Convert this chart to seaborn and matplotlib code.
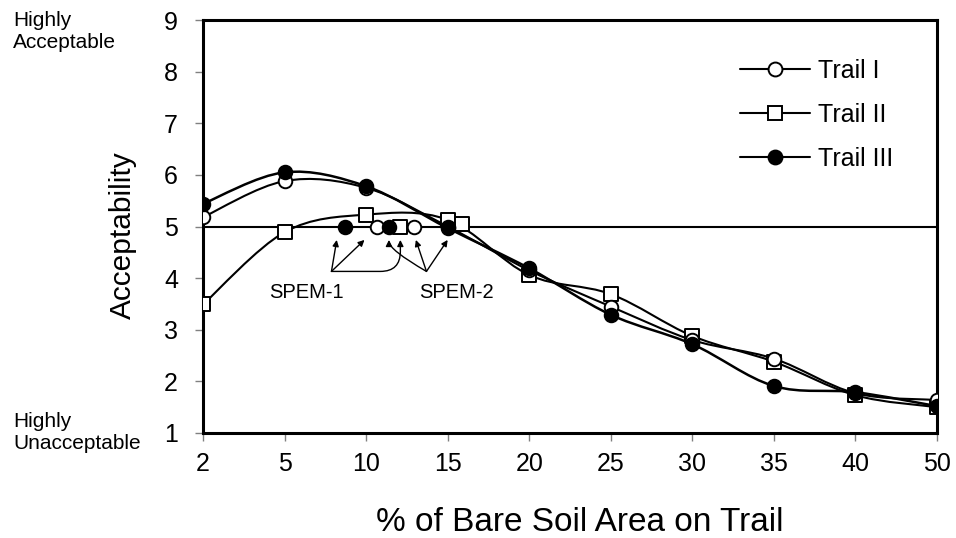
import numpy as np
import pandas as pd
import matplotlib
matplotlib.use('Agg')
import matplotlib.pyplot as plt
import seaborn as sns
from matplotlib.path import Path
from matplotlib.patches import PathPatch
from matplotlib.lines import Line2D

# values
soil_pct = [2, 5, 10, 15, 20, 25, 30, 35, 40, 50]
trail_1 = [5.18, 5.88, 5.75, 5.00, 4.15, 3.45, 2.80, 2.44, 1.77, 1.64]
trail_2 = [3.49, 4.89, 5.23, 5.13, 4.06, 3.69, 2.88, 2.38, 1.73, 1.50]
trail_3 = [5.44, 6.05, 5.78, 4.97, 4.19, 3.29, 2.72, 1.91, 1.79, 1.52]
trail_names = ['Trail I', 'Trail II', 'Trail III']

# SPEM points on the acceptability = 5 line
spem_pct = [8.7, 10.65, 11.4, 12.05, 12.95, 15.85]
spem_val = [5.0, 5.0, 5.0, 5.0, 5.0, 5.05]
spem_trail = ['Trail III', 'Trail I', 'Trail III', 'Trail II', 'Trail I', 'Trail II']

y_ticks = [1, 2, 3, 4, 5, 6, 7, 8, 9]

# categorical x axis: evenly spaced ticks
pos = np.arange(len(soil_pct))
df = pd.DataFrame({
    'pos': np.tile(pos, 3),
    'value': trail_1 + trail_2 + trail_3,
    'trail': np.repeat(trail_names, len(pos)),
})
spem = pd.DataFrame({
    'pos': np.interp(spem_pct, soil_pct, pos),
    'value': spem_val,
    'trail': spem_trail,
})

sns.set_style('ticks')
plt.rcParams['font.family'] = ['Liberation Sans', 'DejaVu Sans']
plt.rcParams.update({'text.color': 'black', 'axes.labelcolor': 'black',
                     'xtick.labelcolor': 'black', 'ytick.labelcolor': 'black'})

fig = plt.figure(figsize=(9.56, 5.38), dpi=100)
ax = fig.add_axes([203 / 956, 1 - 433 / 538, 734 / 956, 413 / 538])

face = {'Trail I': 'white', 'Trail II': 'white', 'Trail III': 'black'}
mark = {'Trail I': 'o', 'Trail II': 's', 'Trail III': 'o'}


def smooth_path(xs, ys):
    pts = np.column_stack([xs, ys]).astype(float)
    n = len(pts)
    verts = [pts[0]]
    codes = [Path.MOVETO]
    for i in range(n - 1):
        p0 = pts[max(i - 1, 0)]
        p1 = pts[i]
        p2 = pts[i + 1]
        p3 = pts[min(i + 2, n - 1)]
        verts += [p1 + (p2 - p0) / 6, p2 - (p3 - p1) / 6, p2]
        codes += [Path.CURVE4] * 3
    return Path(verts, codes)


ax.axhline(5, color='black', lw=1.5, zorder=2)

for name, lw in zip(trail_names, [1.5, 1.5, 1.8]):
    sub = df[df['trail'] == name]
    ax.add_patch(PathPatch(smooth_path(sub['pos'], sub['value']), fill=False,
                           edgecolor='black', lw=lw, zorder=3))

for name in ['Trail II', 'Trail I', 'Trail III']:
    for data in (df, spem):
        sub = data[data['trail'] == name]
        sns.scatterplot(data=sub, x='pos', y='value', marker=mark[name],
                        color=face[name], edgecolor='black', linewidth=1.4,
                        s=95 if mark[name] == 'o' else 105, zorder=4, ax=ax,
                        legend=False)

# SPEM arrows
arrow = dict(arrowstyle='-|>', color='black', lw=1.0, mutation_scale=9,
             shrinkA=0, shrinkB=0)
ax.text(1.27, 3.72, 'SPEM-1', ha='center', va='center', fontsize=14.5)
ax.text(3.11, 3.72, 'SPEM-2', ha='center', va='center', fontsize=14.5)
for tip in [1.64, 1.98]:
    ax.annotate('', xy=(tip, 4.74), xytext=(1.575, 4.13), arrowprops=arrow)
ax.annotate('', xy=(2.42, 4.74), xytext=(1.575, 4.13),
            arrowprops=dict(arrow, connectionstyle='angle,angleA=0,angleB=90,rad=20'))
for tip in [2.61, 3.0]:
    ax.annotate('', xy=(tip, 4.74), xytext=(2.74, 4.13), arrowprops=arrow)
ax.annotate('', xy=(2.28, 4.74), xytext=(2.74, 4.13),
            arrowprops=dict(arrow, connectionstyle='angle3,angleA=150,angleB=90'))

ax.set_xlim(0, len(pos) - 1)
ax.set_ylim(1, 9)
ax.set_xticks(pos)
ax.set_xticklabels([str(v) for v in soil_pct])
ax.set_yticks(y_ticks)
ax.tick_params(axis='both', direction='out', length=6, width=1, color='gray',
               labelsize=18, labelcolor='black')
ax.tick_params(axis='x', pad=8)
ax.tick_params(axis='y', pad=12)
for sp in ax.spines.values():
    sp.set_visible(True)
    sp.set_linewidth(2.2)
    sp.set_color('black')

ax.set_ylabel('Acceptability', fontsize=21.5, va='center', color='black')
ax.yaxis.set_label_coords(-0.109, 0.479)
ax.set_xlabel('% of Bare Soil Area on Trail', fontsize=24, va='baseline',
              color='black')
ax.xaxis.set_label_coords(0.5136, -0.237)

fig.text(13 / 956, 1 - 11 / 538, 'Highly\nAcceptable', ha='left', va='top',
         fontsize=15, linespacing=1.2)
fig.text(13 / 956, 1 - 412 / 538, 'Highly\nUnacceptable', ha='left', va='top',
         fontsize=15, linespacing=1.2)

handles = [Line2D([], [], color='black', lw=1.5, marker=mark[n],
                  markerfacecolor=face[n], markeredgecolor='black',
                  markersize=10 if mark[n] == 'o' else 9.5, markeredgewidth=1.4)
           for n in trail_names]
ax.legend(handles, trail_names, loc='center left', bbox_to_anchor=(0.7316, 0.77),
          frameon=False, fontsize=18, handlelength=2.8, handletextpad=0.32,
          labelspacing=0.8, borderpad=0, borderaxespad=0)

fig.savefig('out.png', dpi=100)
